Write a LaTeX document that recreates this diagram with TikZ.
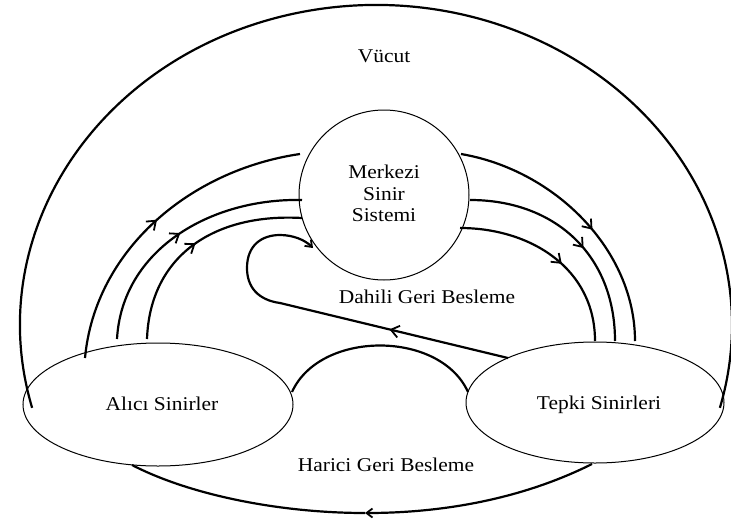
\documentclass[tikz,border=0pt]{standalone}
\usepackage{fontspec}
\setmainfont{Liberation Serif}
\usetikzlibrary{arrows.meta,decorations.markings,shapes.geometric}
\newcommand{\wt}[1]{\scalebox{1.1}[1]{#1}}
\tikzset{
  thin line/.style={line width=1pt},
  thick line/.style={line width=2.2pt},
  lbl/.style={anchor=base,inner sep=0pt,font=\fontsize{19.5}{22}\selectfont},
  midarrow/.style={postaction={decorate},decoration={markings,
    mark=at position #1 with {\arrow{Straight Barb[length=8pt,width=12pt,line width=1.8pt]}}}},
  endtip/.style={-{Straight Barb[length=6pt,width=9pt,line width=1.8pt]}},
}
\begin{document}
\begin{tikzpicture}[x=1pt,y=-1pt]
\useasboundingbox (0,0) rectangle (731,525);
% main shapes
\node[thin line,draw,circle,minimum size=170pt,inner sep=0pt] (mss) at (384,195) {};
\node[thin line,draw,ellipse,minimum width=270pt,minimum height=123pt,inner sep=0pt] (alici) at (158,404.5) {};
\node[thin line,draw,ellipse,minimum width=258pt,minimum height=121pt,inner sep=0pt] (tepki) at (595,402.5) {};
% body
\draw[thick line] (376,325) ++(165:356 and 320) coordinate (vl) arc[start angle=165,end angle=375,x radius=356,y radius=320] coordinate (vr);
% labels
\node[lbl] (vucut) at (384,62) {\wt{Vücut}};
\node[lbl] (l1) at (384,178) {\wt{Merkezi}};
\node[lbl] (l2) at (384,200) {\wt{Sinir}};
\node[lbl] (l3) at (384,221) {\wt{Sistemi}};
\node[lbl] (dahili) at (427,303) {\wt{Dahili Geri Besleme}};
\node[lbl] (alt) at (162,410) {\wt{Alıcı Sinirler}};
\node[lbl] (tt) at (599,409) {\wt{Tepki Sinirleri}};
\node[lbl] (harici) at (386,471) {\wt{Harici Geri Besleme}};
% endpoints
\coordinate (a1) at (85,358);  \coordinate (b1) at (300,154);
\coordinate (a2) at (117,339); \coordinate (b2) at (302,200);
\coordinate (a3) at (147,339); \coordinate (b3) at (302,218);
\coordinate (c1) at (461,154); \coordinate (d1) at (635,341);
\coordinate (c2) at (470,200); \coordinate (d2) at (615,341);
\coordinate (c3) at (460,228); \coordinate (d3) at (595,341);
\coordinate (e1) at (508,358); \coordinate (e2) at (280,303);
\coordinate (e3) at (313,248);
\coordinate (h1) at (592,464); \coordinate (h2) at (365,513); \coordinate (h3) at (132,465);
\coordinate (k1) at (292,392); \coordinate (k2) at (468,392);
% afferent arcs
\draw[thick line,midarrow=0.5] (a1) .. controls (95,250) and (190,170) .. (b1);
\draw[thick line,midarrow=0.5] (a2) .. controls (122,250) and (210,198) .. (b2);
\draw[thick line,midarrow=0.5] (a3) .. controls (150,255) and (215,213) .. (b3);
% efferent arcs
\draw[thick line,midarrow=0.56] (c1) .. controls (555,170) and (635,250) .. (d1);
\draw[thick line,midarrow=0.56] (c2) .. controls (555,200) and (615,255) .. (d2);
\draw[thick line,midarrow=0.56] (c3) .. controls (530,228) and (595,268) .. (d3);
% internal feedback
\draw[thick line,midarrow=0.52] (e1) -- (e2);
\draw[thick line,endtip] (e2) .. controls (258,300) and (247,287) .. (247,268)
   .. controls (247,245) and (262,235) .. (280,235)
   .. controls (293,235) and (305,240) .. (e3);
% bottom arch
\draw[thick line] (k1) .. controls (320,330) and (440,330) .. (k2);
% external feedback
\draw[thick line,endtip] (h1) .. controls (520,500) and (440,513) .. (h2);
\draw[thick line] (h2) .. controls (280,513) and (190,495) .. (h3);
\end{tikzpicture}
\end{document}
